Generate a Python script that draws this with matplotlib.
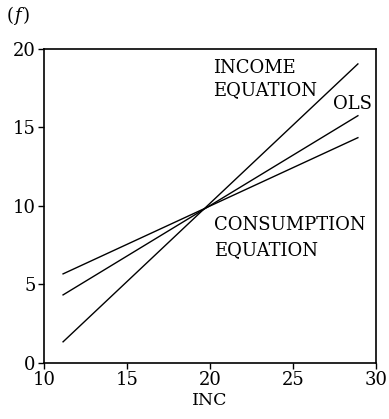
import matplotlib.pyplot as plt

plt.rcParams['font.family'] = 'DejaVu Serif'

# Fitted lines over the INC range, all crossing near (20, 10)
inc = [11.15, 28.9]
income_eq = [1.34, 19.05]
ols = [4.33, 15.75]
consumption_eq = [5.67, 14.35]

x_ticks = [10, 15, 20, 25, 30]
y_ticks = [0, 5, 10, 15, 20]

fig = plt.figure(figsize=(3.89, 4.19), dpi=100)
ax = fig.add_axes([0.113, 0.134, 0.854, 0.749])

for y in (income_eq, ols, consumption_eq):
    ax.plot(inc, y, color='black', linewidth=1.0)

ax.set_xlim(10, 30)
ax.set_ylim(0, 20)
ax.set_xticks(x_ticks)
ax.set_yticks(y_ticks)
ax.tick_params(direction='out', length=4, width=1, labelsize=13, pad=2)
for s in ax.spines.values():
    s.set_linewidth(1.2)
ax.set_xlabel('INC', fontsize=12.5, labelpad=2)

# line labels
lab = dict(fontsize=13, ha='left', va='center')
ax.text(20.2, 18.79, 'INCOME', **lab)
ax.text(20.2, 17.39, 'EQUATION', **lab)
ax.text(27.4, 16.5, 'OLS', **lab)
ax.text(20.25, 8.79, 'CONSUMPTION', **lab)
ax.text(20.25, 7.2, 'EQUATION', **lab)

fig.text(0.018, 0.94, '(', fontsize=13, va='bottom')
fig.text(0.036, 0.94, 'f', fontsize=13, style='italic', va='bottom')
fig.text(0.058, 0.94, ')', fontsize=13, va='bottom')

fig.savefig('out.png', dpi=100)
